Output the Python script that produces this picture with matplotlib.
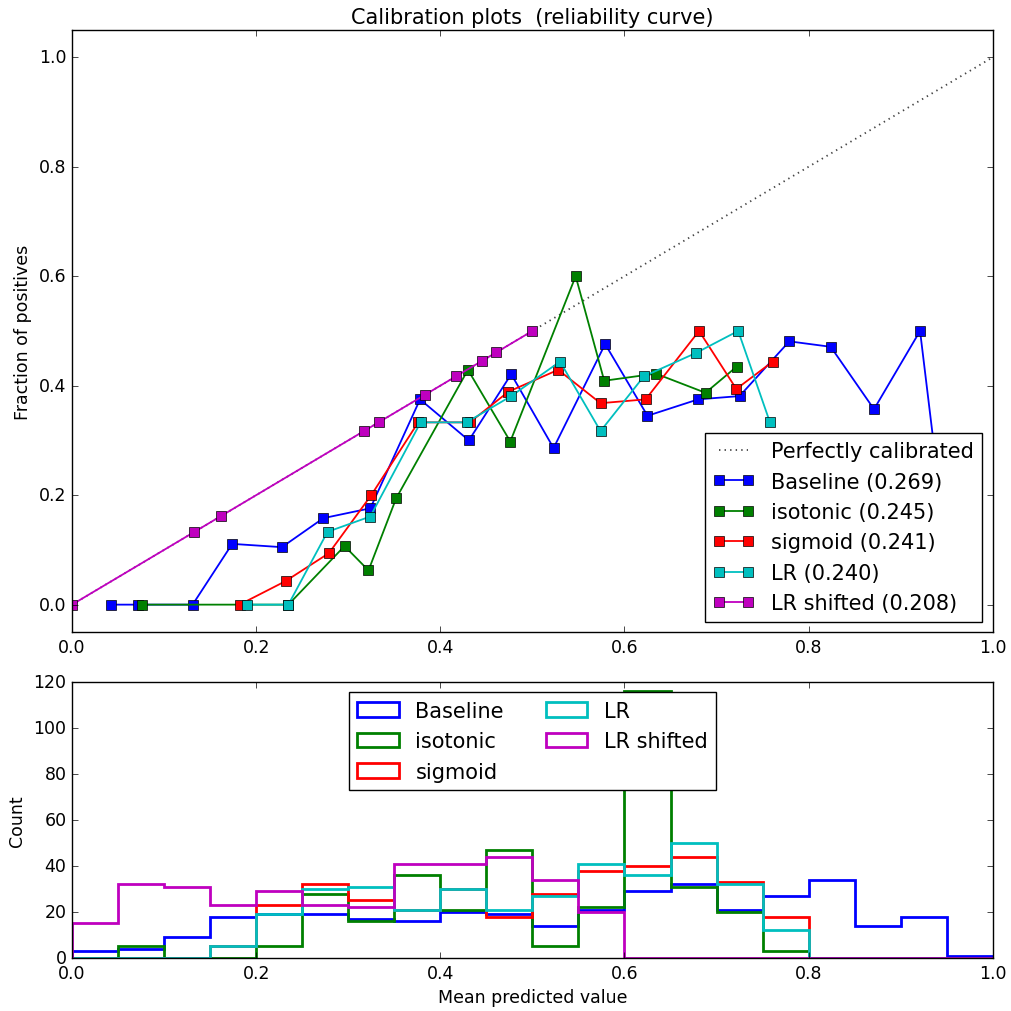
import matplotlib
matplotlib.use("Agg")
import matplotlib.pyplot as plt
import numpy as np

plt.style.use("classic")
plt.rcParams["font.size"] = 12.5
plt.rcParams["lines.linewidth"] = 1.3

# calibration curves: mean predicted value / fraction of positives
baseline_x = [0.042, 0.072, 0.131, 0.174, 0.228, 0.273, 0.324, 0.378, 0.431, 0.477,
              0.523, 0.579, 0.625, 0.680, 0.725, 0.779, 0.824, 0.871, 0.921, 0.957]
baseline_y = [0.0, 0.0, 0.0, 0.111, 0.105, 0.158, 0.176, 0.375, 0.300, 0.421,
              0.286, 0.476, 0.345, 0.375, 0.381, 0.481, 0.471, 0.357, 0.500, 0.0]

isotonic_x = [0.0755, 0.235, 0.296, 0.322, 0.352, 0.430, 0.476, 0.547, 0.578, 0.634, 0.688, 0.722]
isotonic_y = [0.0, 0.0, 0.107, 0.0625, 0.194, 0.429, 0.298, 0.600, 0.409, 0.422, 0.387, 0.435]

sigmoid_x = [0.182, 0.232, 0.279, 0.325, 0.376, 0.432, 0.474, 0.528, 0.574, 0.623, 0.681, 0.7215, 0.761]
sigmoid_y = [0.0, 0.043, 0.094, 0.200, 0.333, 0.333, 0.389, 0.429, 0.368, 0.375, 0.500, 0.394, 0.444]

lr_x = [0.190, 0.235, 0.2775, 0.324, 0.3786, 0.4285, 0.477, 0.530, 0.574, 0.621, 0.678, 0.7235, 0.758]
lr_y = [0.0, 0.0, 0.133, 0.161, 0.333, 0.333, 0.381, 0.444, 0.317, 0.417, 0.460, 0.500, 0.333]

shifted_x = [0.0, 0.133, 0.162, 0.317, 0.333, 0.383, 0.417, 0.445, 0.461, 0.500]
shifted_y = [0.0, 0.133, 0.162, 0.317, 0.333, 0.383, 0.417, 0.445, 0.461, 0.500]

names = ["Baseline", "isotonic", "sigmoid", "LR", "LR shifted"]
brier = [0.269, 0.245, 0.241, 0.240, 0.208]
colors = ["b", "g", "r", "c", "m"]

# histogram of predicted values, 20 bins on [0, 1]
bin_edges = np.linspace(0, 1, 21)
baseline_counts = [3, 4, 9, 18, 19, 19, 17, 16, 20, 19, 14, 21, 29, 32, 21, 27, 34, 14, 18, 1]
isotonic_counts = [0, 5, 0, 0, 5, 28, 16, 36, 21, 47, 5, 22, 116, 31, 20, 3, 0, 0, 0, 0]
sigmoid_counts = [0, 0, 0, 5, 23, 32, 25, 21, 30, 18, 28, 38, 40, 44, 33, 18, 0, 0, 0, 0]
lr_counts = [0, 0, 0, 5, 19, 30, 31, 21, 30, 21, 27, 41, 36, 50, 32, 12, 0, 0, 0, 0]
shifted_counts = [15, 32, 31, 23, 29, 23, 22, 41, 41, 44, 34, 20, 0, 0, 0, 0, 0, 0, 0, 0]

curves = [(baseline_x, baseline_y), (isotonic_x, isotonic_y), (sigmoid_x, sigmoid_y),
          (lr_x, lr_y), (shifted_x, shifted_y)]
counts = [baseline_counts, isotonic_counts, sigmoid_counts, lr_counts, shifted_counts]

fig = plt.figure(figsize=(10.11, 10.12), dpi=100, facecolor="white")
ax1 = fig.add_axes([0.0712, 0.3745, 0.9108, 0.595])
ax2 = fig.add_axes([0.0712, 0.0524, 0.9108, 0.2727])

ax1.plot([0, 1], [0, 1], ":", color="#444444", label="Perfectly calibrated")
for (cx, cy), name, score, col in zip(curves, names, brier, colors):
    ax1.plot(cx, cy, "s-", color=col, markersize=7, label="%s (%1.3f)" % (name, score))

centers = (bin_edges[:-1] + bin_edges[1:]) / 2
for cnt, name, col in zip(counts, names, colors):
    ax2.hist(centers, bins=bin_edges, weights=cnt, histtype="step", lw=2,
             color=col, label=name)

ax1.set_ylabel("Fraction of positives")
ax1.set_xlim(0, 1)
ax1.set_ylim(-0.05, 1.05)
ax1.legend(loc="lower right")
ax1.set_title("Calibration plots  (reliability curve)")

ax2.set_xlim(0, 1)
ax2.set_ylim(0, 120)
ax2.set_xlabel("Mean predicted value")
ax2.set_ylabel("Count")
ax2.legend(loc="upper center", ncol=2)

fig.savefig("out.png", dpi=100, facecolor="white")
